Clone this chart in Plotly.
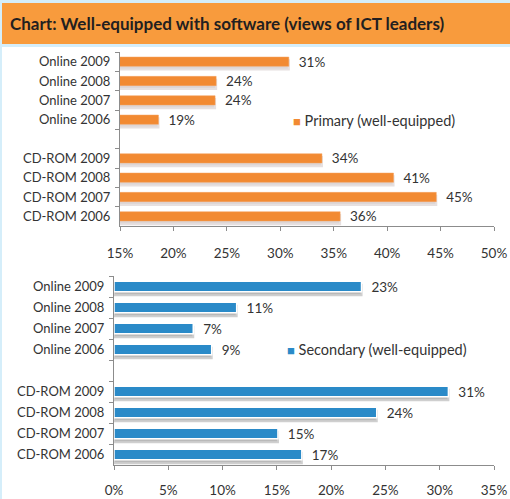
import plotly.graph_objects as go

W, H = 510, 499

# ---- data ----
categories = ["Online 2009", "Online 2008", "Online 2007", "Online 2006", " ",
              "CD-ROM 2009", "CD-ROM 2008", "CD-ROM 2007", "CD-ROM 2006"]
primary = [30.8, 24.0, 23.9, 18.6, None, 33.9, 40.6, 44.6, 35.6]
secondary = [22.8, 11.3, 7.3, 9.0, None, 30.8, 24.2, 15.1, 17.3]
primary_ticks = [15, 20, 25, 30, 35, 40, 45, 50]
secondary_ticks = [0, 5, 10, 15, 20, 25, 30, 35]
primary_name = "Primary (well-equipped)"
secondary_name = "Secondary (well-equipped)"
title = "Chart: Well-equipped with software (views of ICT leaders)"

ORANGE = "#f28a32"
BLUE = "#2a8ac8"
TXT = "#333333"
FONT = "Lato"


def px(x):
    return x / W


def py(y):
    return 1 - y / H


def labels(vals):
    return ["\u00a0\u00a0%.0f%%" % v if v is not None else "" for v in vals]


fig = go.Figure()

n = len(categories)
shift = 0.17

# shadows (on hidden base axes, shifted)
fig.add_trace(go.Bar(y=categories, x=primary, orientation="h", xaxis="x", yaxis="y",
                     marker=dict(color="#ddd6d6", line=dict(color="#e6e0e0", width=2)),
                     width=0.48, showlegend=False, hoverinfo="skip"))
fig.add_trace(go.Bar(y=categories, x=secondary, orientation="h", xaxis="x2", yaxis="y2",
                     marker=dict(color="#b9b9b9", line=dict(color="#cfcfcf", width=2)),
                     width=0.5, showlegend=False, hoverinfo="skip"))

# bars (on visible overlaying axes)
fig.add_trace(go.Bar(y=categories, x=primary, orientation="h", xaxis="x", yaxis="y3",
                     marker=dict(color=ORANGE, line=dict(color="#f5a260", width=0.5)),
                     width=0.48, name=primary_name, showlegend=False,
                     text=labels(primary), texttemplate="%{text}", textposition="outside",
                     constraintext="none",
                     textfont=dict(family=FONT, size=13.5, color=TXT)))
fig.add_trace(go.Bar(y=categories, x=secondary, orientation="h", xaxis="x2", yaxis="y4",
                     marker=dict(color=BLUE, line=dict(color="white", width=1.5)),
                     width=0.5, name=secondary_name, showlegend=False,
                     text=labels(secondary), texttemplate="%{text}", textposition="outside",
                     constraintext="none",
                     textfont=dict(family=FONT, size=13.5, color=TXT)))

axis_common = dict(showline=True, linecolor="#8c8c8c", linewidth=1, ticks="outside",
                   tickcolor="#8c8c8c", ticklen=4, showgrid=False, zeroline=False,
                   automargin=False,
                   tickfont=dict(family=FONT, size=13, color=TXT))
xfont = dict(family=FONT, size=13.5, color=TXT)

top_dom = [py(226), py(52)]
bot_dom = [py(465), py(276)]

hidden = dict(type="category", categoryorder="array", categoryarray=categories,
              range=[n - 0.5 - shift, -0.5 - shift], visible=False, automargin=False)

fig.update_layout(
    template="none",
    width=W, height=H, margin=dict(l=0, r=0, t=0, b=0, autoexpand=False),
    paper_bgcolor="white", plot_bgcolor="rgba(0,0,0,0)",
    barmode="overlay", showlegend=False,
    xaxis=dict(axis_common, domain=[px(120), px(494)], range=[15, 50], anchor="y",
               tickvals=primary_ticks, ticktext=[f"{t}%" for t in primary_ticks],
               ticklabelstandoff=11, tickfont=xfont),
    yaxis=dict(hidden, domain=top_dom, anchor="x"),
    yaxis3=dict(axis_common, overlaying="y", anchor="x", side="left", type="category",
                categoryorder="array", categoryarray=categories,
                range=[n - 0.5, -0.5], tickson="boundaries", ticklabelstandoff=6),
    xaxis2=dict(axis_common, domain=[px(114), px(494)], range=[0, 35], anchor="y2",
                tickvals=secondary_ticks, ticktext=[f"{t}%" for t in secondary_ticks],
                ticklabelstandoff=9, tickfont=xfont),
    yaxis2=dict(hidden, domain=bot_dom, anchor="x2"),
    yaxis4=dict(axis_common, overlaying="y2", anchor="x2", side="left", type="category",
                categoryorder="array", categoryarray=categories,
                range=[n - 0.5, -0.5], tickson="boundaries", ticklabelstandoff=6),
    shapes=[
        dict(type="rect", xref="paper", yref="paper", x0=0, x1=1, y0=py(47), y1=1,
             fillcolor="#d5eefa", line_width=0, layer="below"),
        dict(type="rect", xref="paper", yref="paper", x0=0, x1=1, y0=py(44), y1=py(3),
             fillcolor="#f89b3d", line_width=0, layer="below"),
        dict(type="rect", xref="paper", yref="paper", x0=0, x1=px(2), y0=0, y1=1,
             fillcolor="#d5eefa", line_width=0, layer="below"),
    ],
    annotations=[
        dict(text=f"<b>{title}</b>", xref="paper", yref="paper", x=px(8), y=py(23.5),
             xanchor="left", yanchor="middle", showarrow=False,
             font=dict(family=FONT, size=17, color="#231f20")),
        dict(text=f"<span style='color:{ORANGE};font-size:13px'>■</span> {primary_name}",
             xref="paper", yref="paper", x=px(291), y=py(120), xanchor="left",
             yanchor="middle", showarrow=False,
             font=dict(family=FONT, size=14.5, color=TXT)),
        dict(text=f"<span style='color:{BLUE};font-size:13px'>■</span> {secondary_name}",
             xref="paper", yref="paper", x=px(285), y=py(349), xanchor="left",
             yanchor="middle", showarrow=False,
             font=dict(family=FONT, size=14.5, color=TXT)),
    ],
)

fig.write_html("out.html", config={"displayModeBar": False},
               post_script="document.body.style.margin='0';")
